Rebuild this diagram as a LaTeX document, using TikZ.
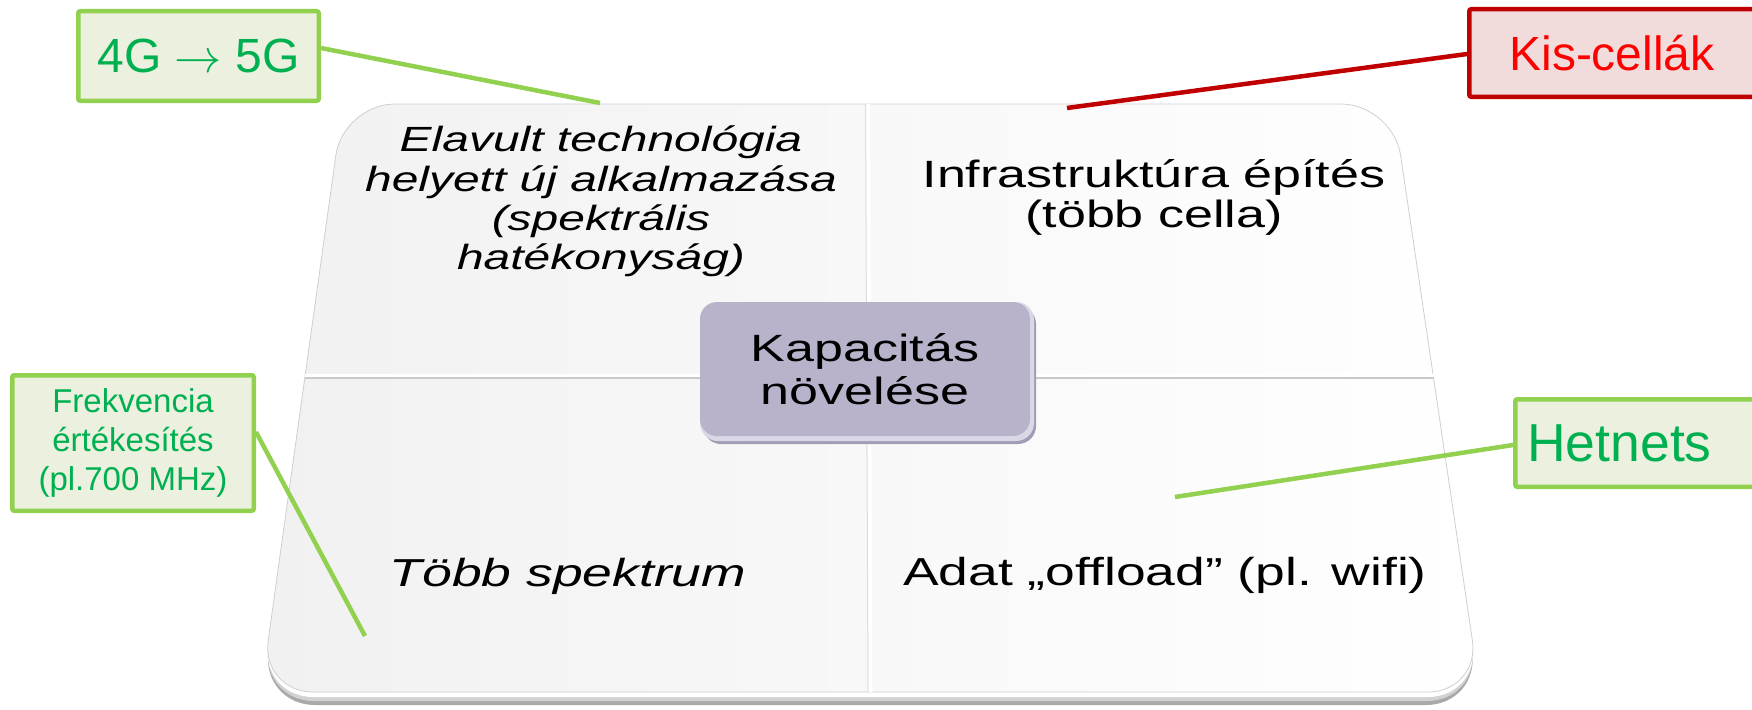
\documentclass[tikz,border=0pt]{standalone}
\usepackage{fontspec}
\setmainfont{Liberation Sans}
\newfontfamily\sa[FakeStretch=1.37]{Liberation Sans}
\usetikzlibrary{calc}
\definecolor{gfill}{HTML}{EBF1DE}
\definecolor{gline}{HTML}{92D050}
\definecolor{gtext}{HTML}{00B050}
\definecolor{rfill}{HTML}{F2DCDB}
\definecolor{rline}{HTML}{C00000}
\definecolor{rtext}{HTML}{FF0000}
\definecolor{hub}{HTML}{B8B3CB}
\definecolor{hubhi}{HTML}{DAD7E7}
\definecolor{hubsh}{HTML}{A29DB5}
\definecolor{tileL}{HTML}{F1F1F1}
\definecolor{tileM}{HTML}{F4F4F4}
\definecolor{tileedge}{HTML}{CFCFCF}
\definecolor{sideA}{HTML}{A9A9A9}
\definecolor{sideB}{HTML}{D2D2D2}
\definecolor{divgray}{HTML}{C9C9C9}
\definecolor{divgray2}{HTML}{DCDCDC}
\begin{document}
\begin{tikzpicture}[x=1pt,y=-1pt,
  callout/.style={draw=gline, fill=gfill, line width=4.5pt, text=gtext, inner sep=0pt,
    rounded corners=2pt, align=center, font=\fontsize{48}{55}\selectfont},
  redcallout/.style={callout, draw=rline, fill=rfill, text=rtext},
  gconn/.style={draw=gline, line width=4.5pt},
  rconn/.style={draw=rline, line width=4.5pt},
  quad/.style={inner sep=0pt, align=center, text=black},
  hubbox/.style={fill=hub, rounded corners=17pt, minimum width=330pt, minimum height=134pt,
    inner sep=0pt, align=center, font=\sa\fontsize{38}{43}\selectfont}
]
\useasboundingbox (0,0) rectangle (1752,709);

% board corners
\coordinate (tl) at (343,104);
\coordinate (tr) at (1393,104);
\coordinate (br) at (1480,692);
\coordinate (bl) at (261,692);

% extrusion / shadow
\fill[sideA, rounded corners=54pt] ([yshift=-13pt]tl) -- ([yshift=-13pt]tr) -- ([yshift=-13pt]br) -- ([yshift=-13pt]bl) -- cycle;
\fill[sideB, rounded corners=53pt] ([yshift=-9pt]tl) -- ([yshift=-9pt]tr) -- ([yshift=-9pt]br) -- ([yshift=-9pt]bl) -- cycle;
\fill[white, rounded corners=52pt] ([yshift=-5pt]tl) -- ([yshift=-5pt]tr) -- ([yshift=-5pt]br) -- ([yshift=-5pt]bl) -- cycle;
% face
\shadedraw[left color=tileL, middle color=tileM, right color=white, draw=tileedge, line width=0.8pt,
  rounded corners=52pt] (tl) -- (tr) -- (br) -- (bl) -- cycle;

% dividers
\coordinate (ml) at ($(tl)!0.4660!(bl)$);
\coordinate (mr) at ($(tr)!0.4660!(br)$);
\coordinate (mt) at ($(tl)!0.5!(tr)$);
\coordinate (mb) at ($(bl)!0.5!(br)$);
\draw[white, line width=3pt] ([yshift=3pt]ml) -- ([yshift=3pt]mr);
\draw[divgray, line width=2.5pt] (ml) -- (mr);
\draw[white, line width=4pt] (mt) -- (mb);
\draw[divgray2, line width=1pt] ([xshift=-2.5pt]mt) -- ([xshift=-2.5pt]mb);

% quadrant texts
\node[quad, font=\sa\itshape\fontsize{35}{39.3}\selectfont] (q1) at (601,201.5)
  {Elavult technológia\\helyett új alkalmazása\\(spektrális\\hatékonyság)};
\node[quad, font=\sa\fontsize{38}{40}\selectfont] (q2) at (1154,197)
  {Infrastruktúra építés\\(több cella)};
\node[quad, anchor=base, font=\sa\itshape\fontsize{39}{45}\selectfont] (q3) at (568,586)
  {Több spektrum};
\node[quad, anchor=base, font=\sa\fontsize{39}{45}\selectfont] (q4) at (1165,585)
  {Adat „offload” (pl. wifi)};

% hub
\fill[hubsh, rounded corners=18pt] (703,306) rectangle (1036,444);
\fill[hubhi, rounded corners=18pt] (700,302) rectangle (1034,441);
\node[hubbox] (hub) at (865,369) {Kapacitás\\növelése};

% callouts
\node[callout, minimum width=240.5pt, minimum height=89.5pt] (g4) at (198.5,56)
  {4G \scalebox{1.9}{$\rightarrow$} 5G};
\node[redcallout, minimum width=285.5pt, minimum height=87.5pt] (kis) at (1612,53) {Kis-cellák};
\node[callout, minimum width=241.5pt, minimum height=135.5pt, font=\fontsize{33}{39}\selectfont]
  (fr) at (133,443) {Frekvencia\\értékesítés\\(pl.700 MHz)};
\node[callout, minimum width=242.5pt, minimum height=87.5pt, inner xsep=12pt, text width=218.5pt,
  align=left, font=\fontsize{53.5}{60}\selectfont] (het) at (1636.5,443) {Hetnets};

% connector ends
\coordinate (p4) at (600,103);
\coordinate (pk) at (1067,108);
\coordinate (pf) at (365,636);
\coordinate (ph) at (1175,497);

\draw[gconn] ([yshift=8pt]g4.east) -- (p4);
\draw[rconn] ([yshift=-1pt]kis.west) -- (pk);
\draw[gconn] ([yshift=11pt]fr.east) -- (pf);
\draw[gconn] ([yshift=-2pt]het.west) -- (ph);
\end{tikzpicture}
\end{document}
